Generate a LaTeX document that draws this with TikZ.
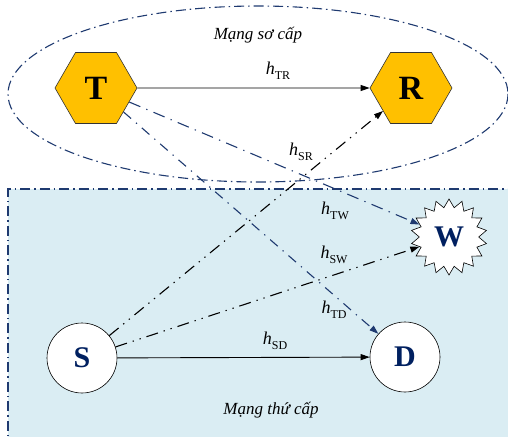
\documentclass[tikz,border=0pt]{standalone}
\usepackage{fontspec}
\setmainfont{Liberation Serif}
\usetikzlibrary{shapes.geometric,arrows.meta}
\definecolor{navy}{HTML}{1F3A70}
\definecolor{txtnavy}{HTML}{002060}
\definecolor{ltblue}{HTML}{DAEDF3}
\definecolor{hexfill}{HTML}{FFC000}
\newcommand{\hlab}[1]{\textit{h}\raisebox{-0.25em}{\fontsize{12}{12}\selectfont #1}}
\tikzset{
  hexnode/.style={regular polygon, regular polygon sides=6, minimum size=82pt, inner sep=0pt,
    fill=hexfill, draw=black!80, line width=0.6pt, font=\fontsize{34}{34}\selectfont\bfseries},
  circnode/.style={circle, minimum size=70pt, inner sep=0pt, fill=white, draw=black, line width=0.6pt,
    text=txtnavy, font=\fontsize{30}{30}\selectfont\bfseries},
  starnode/.style={star, star points=18, star point ratio=1.28, minimum size=76pt, inner sep=0pt,
    fill=white, draw=black, line width=0.6pt, text=txtnavy, font=\fontsize{30}{30}\selectfont\bfseries},
  lab/.style={font=\fontsize{18}{18}\selectfont, inner sep=0pt},
  area/.style={font=\fontsize{17}{17}\selectfont\itshape, inner sep=0pt},
  solidarr/.style={-{Triangle[length=9pt,width=6pt]}, line width=0.9pt, black},
  navyarr/.style={-{Triangle[length=9pt,width=6pt]}, line width=1.1pt, navy,
    dash pattern=on 12pt off 6.5pt on 1.3pt off 6.5pt},
  navyarrb/.style={-{Triangle[length=9pt,width=6pt]}, line width=1.1pt, navy,
    dash pattern=on 10pt off 6.5pt on 1.3pt off 6.5pt},
  blackddarr/.style={-{Triangle[length=9pt,width=6pt]}, line width=1.1pt, black,
    dash pattern=on 12pt off 6pt on 1.3pt off 6pt on 1.3pt off 6pt},
  regionline/.style={navy, line width=1.1pt, dash pattern=on 10pt off 4pt on 1.5pt off 4pt}
}
\begin{document}
\begin{tikzpicture}[x=1pt,y=-1pt]
\useasboundingbox (0,0) rectangle (508,436);
% secondary network area
\fill[ltblue] (8,189) rectangle (520,450);
\draw[regionline] (8,450) -- (8,189) -- (520,189);
% primary network ellipse
\draw[regionline] (258,94) ellipse [x radius=250, y radius=88];
% nodes
\node[hexnode] (T) at (96,88) {T};
\node[hexnode] (R) at (411,88) {R};
\node[starnode] (W) at (449,237) {W};
\node[circnode] (S) at (82,358) {S};
\node[circnode] (D) at (405,357) {D};
% connectors
\draw[solidarr] (T) -- (R);
\draw[solidarr] (S) -- (D);
\draw[navyarr] (T) -- (W);
\draw[navyarrb] (T) -- (D);
\draw[blackddarr] (S) -- (R);
\draw[blackddarr] (S) -- (W);
% labels
\node[area] (lp) at (258,35) {Mạng sơ cấp};
\node[area] (ls) at (271,410) {Mạng thứ cấp};
\node[lab] (htr) at (278,71) {\hlab{TR}};
\node[lab] (hsr) at (301,152) {\hlab{SR}};
\node[lab] (htw) at (335,211) {\hlab{TW}};
\node[lab] (hsw) at (334,255) {\hlab{SW}};
\node[lab] (htd) at (334,310) {\hlab{TD}};
\node[lab] (hsd) at (275,341) {\hlab{SD}};
\end{tikzpicture}
\end{document}
